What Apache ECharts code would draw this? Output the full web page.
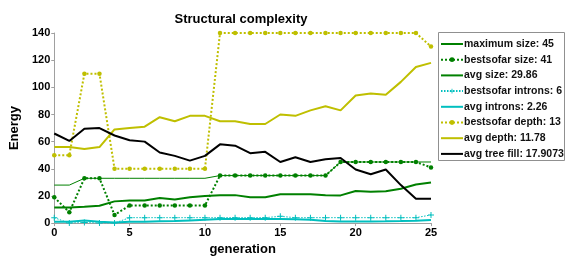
<!DOCTYPE html>
<html><head><meta charset="utf-8">
<script src="https://cdn.jsdelivr.net/npm/echarts@6/dist/echarts.min.js"></script>
<style>html,body{margin:0;padding:0;background:#fff}#c{width:566px;height:261px}</style>
</head><body><div id="c"></div>
<script>
var generations = [0,1,2,3,4,5,6,7,8,9,10,11,12,13,14,15,16,17,18,19,20,21,22,23,24,25];
var maximumSize = [28,28,33,33,33,33,33,33,33,33,33,35,35,35,35,35,35,35,35,45,45,45,45,45,45,45];
var bestsofarSize = [19,8,33,33,6,13,13,13,13,13,13,35,35,35,35,35,35,35,35,45,45,45,45,45,45,41];
var avgSize = [11.4,11.4,12,12.8,16,16.6,16.6,18.5,17.3,19,20,20.6,20.6,19,19,21.3,21.3,21.3,20.6,20.4,23.7,23,23.5,25.3,28.4,29.86];
var bestsofarIntrons = [4,0,0.5,0,0,4,4,4,4,4,4,4,4,4,4,5,4,4,4,4,4,4,4,4,4,6];
var avgIntrons = [1,1,2,1,0.5,1,1,1.3,1.5,2,2.5,3,3,3,3,3,2.8,2.5,1.5,1.2,1.2,1.2,1.3,1.5,1.8,2.26];
var bestsofarDepth = [50,50,110,110,40,40,40,40,40,40,40,140,140,140,140,140,140,140,140,140,140,140,140,140,140,130];
var avgDepth = [56,56,54.5,56,69,70,71,78,75,79,79,75,75,73,73,80,79,83,86,83,94,95.5,94.5,104,115,118];
var avgTreeFill = [66,60.5,69.5,70,64.5,61,60,52,49.5,46,49.5,58,57,51.5,52.5,45,48.5,45,47,48,39.5,36,39.5,28,18,17.9073];
var seriesNames = ['maximum size: 45','bestsofar size: 41','avg size: 29.86','bestsofar introns: 6','avg introns: 2.26','bestsofar depth: 13','avg depth: 11.78','avg tree fill: 17.9073'];
var yTicks = [0,20,40,60,80,100,120,140];
var xTicks = [0,5,10,15,20,25];

function pairs(arr){ return generations.map(function(g,i){ return [g, arr[i]]; }); }
var plus = 'path://M4,0h1.6v4h4v1.6h-4v4h-1.6v-4h-4v-1.6h4z';
var GREEN = '#008000', CYAN = '#00BFBF', YEL = '#BFBF00';
var hasMarker = [false,true,false,true,false,true,false,false];
function mk(name, data, color, width, type, symbol, ssize){
  return {name:name, type:'line', data:pairs(data), animation:false,
    symbol: symbol || 'none', symbolSize: ssize || 4, showSymbol: !!symbol,
    lineStyle:{color:color, width:width, type:type||'solid'},
    itemStyle:{color:color}, emphasis:{disabled:true}};
}
var legendData = seriesNames.map(function(n,i){
  return hasMarker[i] ? {name:n} : {name:n, itemStyle:{opacity:0}};
});
var chart = echarts.init(document.getElementById('c'), null, {renderer:'canvas'});
chart.setOption({
  animation:false,
  backgroundColor:'#fff',
  title:{text:'Structural complexity', left:236, top:8, textAlign:'center',
    textStyle:{fontFamily:'Liberation Sans, Arial', fontWeight:'bold', fontSize:13, color:'#000'}},
  grid:{left:42, right:135, top:33, bottom:31},
  graphic:[{type:'rect', left:438, top:32, z:3, silent:true,
    shape:{width:126, height:128}, style:{fill:'#fff', stroke:'#909090', lineWidth:1}}],
  xAxis:{type:'value', min:0, max:25, interval:5, name:'generation', nameLocation:'middle', nameGap:18,
    nameTextStyle:{fontFamily:'Liberation Sans, Arial', fontWeight:'bold', fontSize:13, color:'#000'},
    axisLine:{lineStyle:{color:'#a0a0a0', width:1}},
    axisTick:{show:true, length:3, lineStyle:{color:'#a0a0a0'}},
    axisLabel:{fontFamily:'Liberation Sans, Arial', fontWeight:'bold', fontSize:11, color:'#000', margin:4,
      formatter:function(v){ return xTicks.indexOf(v)>=0 ? String(v) : ''; }},
    splitLine:{show:false}},
  yAxis:{type:'value', min:0, max:140, interval:20, name:'Energy', nameLocation:'middle', nameGap:28, nameRotate:90,
    nameTextStyle:{fontFamily:'Liberation Sans, Arial', fontWeight:'bold', fontSize:13, color:'#000'},
    axisLine:{show:true, lineStyle:{color:'#a0a0a0', width:1}},
    axisTick:{show:true, length:3, lineStyle:{color:'#a0a0a0'}},
    axisLabel:{fontFamily:'Liberation Sans, Arial', fontWeight:'bold', fontSize:11, color:'#000', margin:4,
      formatter:function(v){ return yTicks.indexOf(v)>=0 ? String(v) : ''; }},
    splitLine:{show:false}},
  legend:{orient:'vertical', left:438, top:32, z:4, itemWidth:22, itemHeight:6, itemGap:3.7,
    padding:[6,3,3,2], borderWidth:0,
    textStyle:{fontFamily:'Liberation Sans, Arial', fontSize:10.5, fontWeight:'bold', color:'#111', lineHeight:12, padding:[0,0,0,-4]},
    data:legendData},
  series:[
    mk(seriesNames[0], maximumSize, GREEN, 1),
    mk(seriesNames[1], bestsofarSize, GREEN, 2, [2,2], 'circle', 4.5),
    mk(seriesNames[2], avgSize, GREEN, 2),
    mk(seriesNames[3], bestsofarIntrons, CYAN, 1, [1.5,1.5], plus, 6),
    mk(seriesNames[4], avgIntrons, CYAN, 2),
    mk(seriesNames[5], bestsofarDepth, YEL, 2, [2,2], 'circle', 4.5),
    mk(seriesNames[6], avgDepth, YEL, 2),
    mk(seriesNames[7], avgTreeFill, '#000', 2)
  ]
});
</script></body></html>
